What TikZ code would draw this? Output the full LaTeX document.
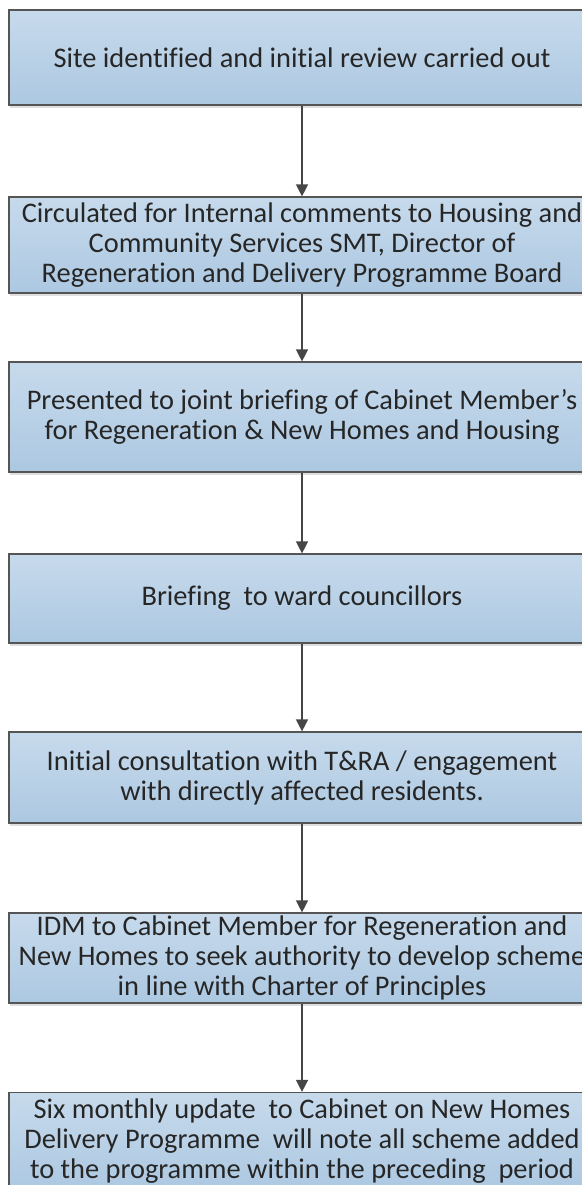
\documentclass[tikz,border=0pt]{standalone}
\usepackage{fontspec}
\setmainfont{Carlito}[Ligatures=NoCommon]
\usetikzlibrary{arrows.meta,shadows}
\definecolor{boxtop}{RGB}{199,218,236}
\definecolor{boxbottom}{RGB}{172,200,225}
\definecolor{boxline}{RGB}{85,85,85}
\definecolor{arrowgrey}{RGB}{70,70,70}
\tikzset{
  stage/.style={rectangle, draw=boxline, line width=1.2pt, top color=boxtop, bottom color=boxbottom,
    minimum width=586pt, align=center, text=black!85, font=\fontsize{28.4}{30}\selectfont, inner sep=0pt,
    drop shadow={shadow xshift=1pt, shadow yshift=-3pt, opacity=.25}},
  flow/.style={draw=arrowgrey, line width=1.4pt, -{Triangle[width=12pt,length=12pt]}}
}
\begin{document}
\begin{tikzpicture}[x=1pt,y=-1pt]
\useasboundingbox (0,0) rectangle (581,1185);
\node[stage, minimum height=95pt] (site) at (302,57.5) {Site identified and initial review carried out};
\node[stage, minimum height=96pt] (circ) at (302,245) {Circulated for Internal comments to Housing and\\Community Services SMT, Director of\\Regeneration and Delivery Programme Board};
\node[stage, minimum height=110pt] (joint) at (302,417) {Presented to joint briefing of Cabinet Member’s\\for Regeneration \& New Homes and Housing};
\node[stage, minimum height=89pt] (ward) at (302,598.5) {Briefing\ \ to ward councillors};
\node[stage, minimum height=91pt] (tra) at (302,777.5) {Initial consultation with T\&RA / engagement\\with directly affected residents.};
\node[stage, minimum height=90pt] (idm) at (302,958) {IDM to Cabinet Member for Regeneration and\\New Homes to seek authority to develop scheme\\in line with Charter of Principles};
\node[stage, minimum height=97pt] (update) at (302,1141) {Six monthly update\ \ to Cabinet on New Homes\\Delivery Programme\ \ will note all scheme added\\to the programme within the preceding\ \ period};
\draw[flow] (site) -- (circ);
\draw[flow] (circ) -- (joint);
\draw[flow] (joint) -- (ward);
\draw[flow] (ward) -- (tra);
\draw[flow] (tra) -- (idm);
\draw[flow] (idm) -- (update);
\end{tikzpicture}
\end{document}
